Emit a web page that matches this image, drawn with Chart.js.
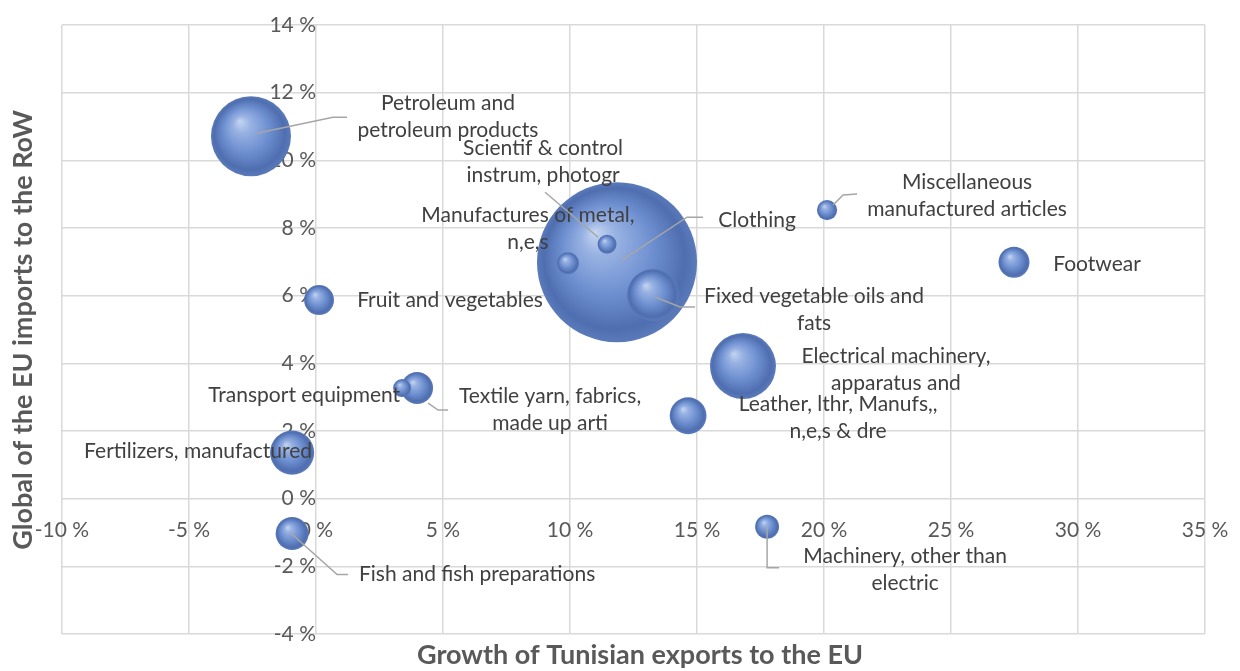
<!DOCTYPE html>
<html>
<head>
<meta charset="utf-8">
<script src="https://cdn.jsdelivr.net/npm/chart.js@4.4.1/dist/chart.umd.min.js"></script>
<style>
  html, body { margin: 0; padding: 0; background: #fff; }
  #wrap { width: 1240px; height: 671px; position: relative; }
</style>
</head>
<body>
<div id="wrap"><canvas id="bubbleChart"></canvas></div>
<script>
// ---------- Data ----------
const categories = [
  "Petroleum and\npetroleum products",
  "Scientif & control\ninstrum, photogr",
  "Manufactures of metal,\nn,e,s",
  "Clothing",
  "Miscellaneous\nmanufactured articles",
  "Footwear",
  "Fruit and vegetables",
  "Fixed vegetable oils and\nfats",
  "Electrical machinery,\napparatus and",
  "Transport equipment",
  "Textile yarn, fabrics,\nmade up arti",
  "Leather, lthr, Manufs,,\nn,e,s & dre",
  "Fertilizers, manufactured",
  "Fish and fish preparations",
  "Machinery, other than\nelectric",
];
// growth of Tunisian exports to the EU (%)
const exportGrowth = [-2.56, 11.46, 9.92, 11.85, 20.12, 27.48, 0.12, 13.27, 16.81, 3.39, 3.98, 14.65, -0.94, -0.94, 17.76];
// global of the EU imports to the RoW (%)
const importShare = [10.71, 7.52, 6.96, 6.99, 8.53, 6.99, 5.87, 6.02, 3.92, 3.27, 3.27, 2.45, 1.36, -1.03, -0.83];
// bubble weight (relative, Clothing = 100)
const bubbleSize = [25, 1.4, 1.9, 100, 1.6, 3.75, 3.5, 10.6, 17, 1.27, 4, 5.3, 7.6, 4.25, 2.25];

const xTicks = [-10, -5, 0, 5, 10, 15, 20, 25, 30, 35];
const yTicks = [-4, -2, 0, 2, 4, 6, 8, 10, 12, 14];

// ---------- Label placement (pixel offsets from bubble centre) ----------
// dx/dy: text block centre x / first line centre y; leader: polyline points
const labelLayout = [
  { dx: 197, dy: -33, leader: [[6, -3], [82, -19], [96, -19]] },
  { dx: -64, dy: -96, leader: [[-9, -7], [-62, -52]] },
  { dx: -40, dy: -48 },
  { dx: 140, dy: -42, leader: [[5, -2], [70, -45], [86, -45]] },
  { dx: 140, dy: -28, leader: [[6, -5], [16, -15], [30, -16]] },
  { dx: 83, dy: 2 },
  { dx: 131, dy: 0 },
  { dx: 161, dy: 1, leader: [[2, 2], [27, 12], [42, 12]] },
  { dx: 153, dy: -10 },
  { dx: -2, dy: 7, align: "right" },
  { dx: 133, dy: 8, leader: [[11, 15], [21, 22], [31, 22]] },
  { dx: 150, dy: -12 },
  { dx: -94, dy: -1 },
  { dx: 185, dy: 41, leader: [[-2, -1], [45, 41], [56, 41]] },
  { dx: 138, dy: 29, leader: [[0, 0], [0, 41], [12, 41]] },
];

const FONT = "Lato, 'Open Sans', sans-serif";
const LINE_H = 27;
const R_SCALE = 8; // px per sqrt(size)

// biggest bubbles first so the small ones sit on top
const points = categories
  .map((name, i) => ({ x: exportGrowth[i], y: importShare[i], r: Math.sqrt(bubbleSize[i]) * R_SCALE, idx: i }))
  .sort((a, b) => b.r - a.r);

// sphere-like shading
function sphereFill(c) {
  const chart = c.chart;
  if (!chart.chartArea || !c.raw) return "#6487cf";
  const x = chart.scales.x.getPixelForValue(c.raw.x);
  const y = chart.scales.y.getPixelForValue(c.raw.y);
  const r = c.raw.r;
  const g = chart.ctx.createRadialGradient(x - 0.28 * r, y - 0.38 * r, 0, x, y, r);
  g.addColorStop(0, "#c6d6f1");
  g.addColorStop(0.22, "#97b1e2");
  g.addColorStop(0.55, "#7091d1");
  g.addColorStop(0.88, "#4e6eb0");
  g.addColorStop(1, "#5b7aba");
  return g;
}

const labelPlugin = {
  id: "bubbleLabels",
  afterDatasetsDraw(chart) {
    const ctx = chart.ctx;
    const meta = chart.getDatasetMeta(0);
    ctx.save();
    meta.data.forEach((pt, i) => {
      const k = points[i].idx;
      const lay = labelLayout[k];
      if (lay.leader) {
        ctx.strokeStyle = "#a6a6a6";
        ctx.lineWidth = 1.5;
        ctx.beginPath();
        lay.leader.forEach(([dx, dy], j) => {
          if (j === 0) ctx.moveTo(pt.x + dx, pt.y + dy);
          else ctx.lineTo(pt.x + dx, pt.y + dy);
        });
        ctx.stroke();
      }
      ctx.fillStyle = "#404040";
      ctx.font = `21px ${FONT}`;
      ctx.textAlign = lay.align || "center";
      ctx.textBaseline = "middle";
      categories[k].split("\n").forEach((line, j) => {
        ctx.fillText(line, pt.x + lay.dx, pt.y + lay.dy + j * LINE_H);
      });
    });
    ctx.restore();
  },
  afterDraw(chart) {
    // axis titles sit at the canvas edges, not next to the crossing axes
    const ctx = chart.ctx;
    ctx.save();
    ctx.fillStyle = "#595959";
    ctx.font = `bold 27px ${FONT}`;
    ctx.textAlign = "center";
    ctx.textBaseline = "middle";
    ctx.fillText("Growth of Tunisian exports to the EU", 640, 655);
    ctx.translate(23, 330);
    ctx.rotate(-Math.PI / 2);
    ctx.fillText("Global of the EU imports to the RoW", 0, 0);
    ctx.restore();
  },
};

const tickFont = { family: FONT, size: 21 };
const gridStyle = { color: "#d9d9d9", lineWidth: 1.5, drawTicks: false };

// crossing axes: take no room and ask for no extra padding
function noRoom(s) {
  if (s.isHorizontal()) s.height = 0;
  else s.width = 0;
  s.paddingLeft = s.paddingRight = s.paddingTop = s.paddingBottom = 0;
}

new Chart(document.getElementById("bubbleChart"), {
  type: "bubble",
  data: {
    datasets: [
      {
        data: points,
        backgroundColor: sphereFill,
        borderWidth: 0,
        clip: false,
      },
    ],
  },
  options: {
    responsive: true,
    maintainAspectRatio: false,
    animation: false,
    events: [],
    layout: { autoPadding: false, padding: { left: 62, right: 35, top: 25, bottom: 37 } },
    scales: {
      x: {
        type: "linear",
        position: { y: 0 },
        min: xTicks[0],
        max: xTicks[xTicks.length - 1],
        afterBuildTicks: (s) => { s.ticks = xTicks.map((v) => ({ value: v })); },
        afterFit: noRoom,
        ticks: { callback: (v) => v + " %", color: "#595959", font: tickFont, padding: 19, maxRotation: 0, autoSkip: false },
        grid: gridStyle,
        border: { display: false },
      },
      y: {
        type: "linear",
        position: { x: 0 },
        min: yTicks[0],
        max: yTicks[yTicks.length - 1],
        afterBuildTicks: (s) => { s.ticks = yTicks.map((v) => ({ value: v })); },
        afterFit: noRoom,
        ticks: { callback: (v) => v + " %", color: "#595959", font: tickFont, padding: 23, autoSkip: false },
        grid: gridStyle,
        border: { display: false },
      },
    },
    plugins: {
      legend: { display: false },
      tooltip: { enabled: false },
    },
  },
  plugins: [labelPlugin],
});
</script>
</body>
</html>
